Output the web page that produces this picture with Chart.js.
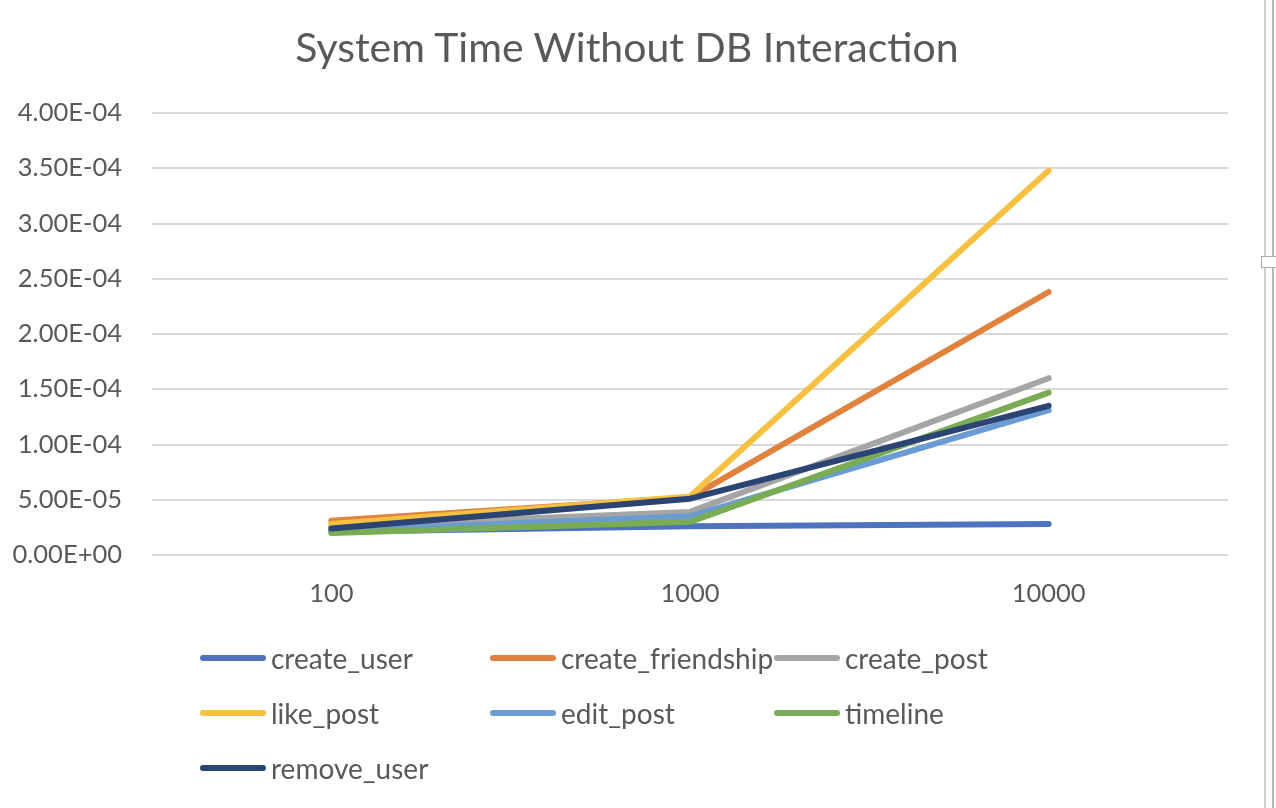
<!DOCTYPE html>
<html>
<head>
<meta charset="utf-8">
<script src="https://cdn.jsdelivr.net/npm/chart.js@4.4.1/dist/chart.umd.min.js"></script>
<style>
  html, body { margin: 0; padding: 0; background: #fff; }
  body { width: 1276px; height: 808px; position: relative; overflow: hidden; font-family: Lato, "Open Sans", sans-serif; }
  #wrap { position: absolute; left: 0; top: 0; width: 1276px; height: 808px; }
  #title { position: absolute; left: 0; top: 22px; width: 1254px; text-align: center; color: #595959; font-size: 41px; line-height: 50px; }
  #legend { position: absolute; left: 200px; top: 630px; display: grid; grid-template-columns: 290px 284px 300px; grid-auto-rows: 55px; }
  .item { display: flex; align-items: center; height: 55px; color: #595959; font-size: 28px; }
  .swatch { width: 66px; height: 6px; border-radius: 3px; margin-right: 5px; }
  .edge1 { position: absolute; left: 1264px; top: 0; width: 2px; height: 808px; background: #cfcfcf; }
  .edge2 { position: absolute; left: 1272px; top: 0; width: 2px; height: 808px; background: #b9b9b9; }
  .handle { position: absolute; left: 1261px; top: 256px; width: 15px; height: 10px; background: #fff; border: 1px solid #aaa; border-right: none; }
</style>
</head>
<body>
<div id="wrap"><canvas id="chart" width="1276" height="808"></canvas></div>
<div id="title">System Time Without DB Interaction</div>
<div id="legend"></div>
<div class="edge1"></div>
<div class="edge2"></div>
<div class="handle"></div>
<script>
/* ---------- Data ---------- */
const SIZES = ["100", "1000", "10000"];
const Y_TICKS = [0, 5e-5, 1e-4, 1.5e-4, 2e-4, 2.5e-4, 3e-4, 3.5e-4, 4e-4];

const createUser       = [2.1e-5, 2.6e-5, 2.8e-5];
const createFriendship = [3.1e-5, 5.2e-5, 2.38e-4];
const createPost       = [2.6e-5, 3.9e-5, 1.60e-4];
const likePost         = [2.8e-5, 5.3e-5, 3.48e-4];
const editPost         = [2.2e-5, 3.5e-5, 1.31e-4];
const timeline         = [2.0e-5, 3.0e-5, 1.47e-4];
const removeUser       = [2.4e-5, 5.1e-5, 1.35e-4];

const SERIES = [
  {label: "create_user",       data: createUser,       color: "#4e72be"},
  {label: "create_friendship", data: createFriendship, color: "#e0823d"},
  {label: "create_post",       data: createPost,       color: "#a5a5a5"},
  {label: "like_post",         data: likePost,         color: "#f6c143"},
  {label: "edit_post",         data: editPost,         color: "#6a9bd3"},
  {label: "timeline",          data: timeline,         color: "#7aab55"},
  {label: "remove_user",       data: removeUser,       color: "#2c4474"},
];

const TEXT = "#595959";
const FONT = "Lato, 'Open Sans', sans-serif";

/* ---------- Chart ---------- */
// later series are painted on top, like in Excel
const datasets = SERIES.map((s, i) => ({
  label: s.label,
  data: s.data,
  borderColor: s.color,
  backgroundColor: s.color,
  borderWidth: 6,
  borderCapStyle: "round",
  borderJoinStyle: "round",
  pointRadius: 0,
  tension: 0,
  order: SERIES.length - i
}));

new Chart(document.getElementById("chart"), {
  type: "line",
  data: { labels: SIZES, datasets: datasets },
  options: {
    responsive: false,
    animation: false,
    layout: { padding: { left: 0, right: 48, top: 113, bottom: 193 } },
    plugins: {
      legend: { display: false },
      tooltip: { enabled: false },
      title: { display: false }
    },
    scales: {
      x: {
        offset: true,
        grid: { display: false, drawTicks: false },
        border: { display: false },
        ticks: { color: TEXT, font: { family: FONT, size: 25.5 }, padding: 23 },
        afterFit: s => { s.height = 60; }
      },
      y: {
        min: 0,
        max: 4e-4,
        afterBuildTicks: s => { s.ticks = Y_TICKS.map(v => ({ value: v })); },
        grid: { color: "#d9d9d9", lineWidth: 2, drawTicks: false },
        border: { display: false },
        ticks: {
          color: TEXT,
          font: { family: FONT, size: 25.5 },
          padding: 30,
          callback: v => {
            const s = Number(v).toExponential(2).toUpperCase();
            return s.replace(/E([+-])(\d)$/, "E$10$2");
          }
        },
        afterFit: s => { s.width = 152; }
      }
    }
  }
});

/* ---------- Legend ---------- */
const legend = document.getElementById("legend");
SERIES.forEach(s => {
  const item = document.createElement("div");
  item.className = "item";
  const sw = document.createElement("span");
  sw.className = "swatch";
  sw.style.background = s.color;
  const txt = document.createElement("span");
  txt.textContent = s.label;
  item.appendChild(sw);
  item.appendChild(txt);
  legend.appendChild(item);
});
</script>
</body>
</html>
